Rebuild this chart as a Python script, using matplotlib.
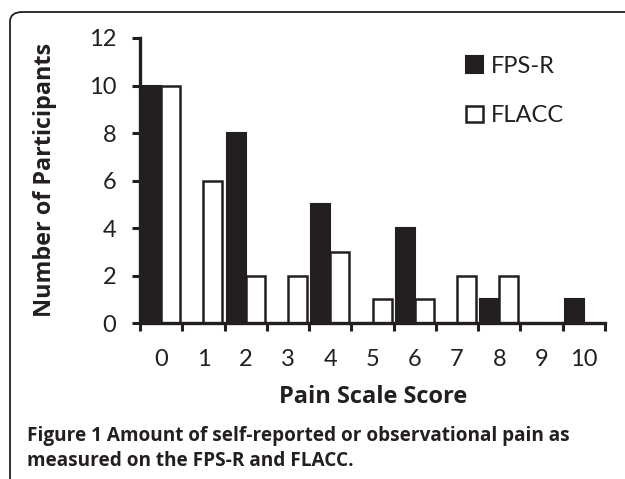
import matplotlib
matplotlib.use("Agg")
import matplotlib.pyplot as plt
from matplotlib.patches import FancyBboxPatch
import numpy as np

scores = list(range(11))
fps_r = [10, 0, 8, 0, 5, 0, 4, 0, 1, 0, 1]
flacc = [10, 6, 2, 2, 3, 1, 1, 2, 2, 0, 0]

plt.rcParams['font.family'] = ['Lato', 'DejaVu Sans']

W, H = 625, 479
fig = plt.figure(figsize=(W / 100, H / 100), dpi=100)

# rounded frame, cut off at right and bottom
frame = FancyBboxPatch((10 / W, -0.2), 1.2, 1 - 12 / H + 0.2,
                       boxstyle="round,pad=0,rounding_size=0.02",
                       transform=fig.transFigure, facecolor='none',
                       edgecolor='#231f20', linewidth=1.3)
fig.add_artist(frame)

ax = fig.add_axes([140 / W, 1 - 323 / H, 465 / W, 285 / H])
x = np.arange(len(scores))
w = 0.45
ax.bar(x - w / 2, fps_r, w, color='#231f20', edgecolor='#231f20', linewidth=1.5, label='FPS-R')
ax.bar(x + w / 2, flacc, w, color='white', edgecolor='#231f20', linewidth=1.8, label='FLACC')

ax.set_xlim(-0.5, 10.5)
ax.set_ylim(0, 12)
ax.set_yticks(range(0, 13, 2))
ax.set_xticks(x)
ax.set_xticklabels([str(s) for s in scores])
ax.set_xticks(np.arange(-0.5, 11, 1), minor=True)
for s in ['top', 'right']:
    ax.spines[s].set_visible(False)
for s in ['left', 'bottom']:
    ax.spines[s].set_linewidth(2.4)
    ax.spines[s].set_color('#231f20')
ax.tick_params(axis='y', direction='out', length=6, width=2.2, pad=11,
               labelsize=17, colors='#231f20')
ax.tick_params(axis='x', which='major', length=0, pad=19, labelsize=17, colors='#231f20')
ax.tick_params(axis='x', which='minor', direction='out', length=6, width=2.2, color='#231f20')

leg = ax.legend(loc='upper left', bbox_to_anchor=(466 / W, 1 - 56 / H),
                bbox_transform=fig.transFigure, frameon=False, fontsize=17,
                handlelength=0.7, handleheight=0.7, handletextpad=0.35,
                labelspacing=1.2, borderpad=0, borderaxespad=0)
for t in leg.get_texts():
    t.set_color('#231f20')

bold = ['Open Sans', 'DejaVu Sans']
ylab = fig.text(45 / W, 1 - 180 / H, 'Number of Participants', rotation=90,
                ha='center', va='center', fontsize=16, fontweight='bold',
                color='#231f20', family=bold)
xlab = fig.text(373 / W, 1 - 397 / H, 'Pain Scale Score', ha='center', va='center',
                fontsize=16, fontweight='bold', color='#231f20', family=bold)

# caption
cap1 = fig.text(27 / W, 1 - 436 / H, 'Figure 1 Amount of self-reported or observational pain as',
                ha='left', va='center', fontsize=13, fontweight='bold',
                color='#231f20', family=bold)
cap2 = fig.text(27 / W, 1 - 461 / H, 'measured on the FPS-R and FLACC.',
                ha='left', va='center', fontsize=13, fontweight='bold',
                color='#231f20', family=bold)

# scale label fonts to the widths measured on the reference
r = fig.canvas.get_renderer()
for t, target, use_h in [(ylab, 274, True), (xlab, 189, False), (cap1, 538, False)]:
    bb = t.get_window_extent(r)
    size = bb.height if use_h else bb.width
    t.set_fontsize(t.get_fontsize() * target / size)
cap2.set_fontsize(cap1.get_fontsize())

fig.savefig('out.png', dpi=100)
